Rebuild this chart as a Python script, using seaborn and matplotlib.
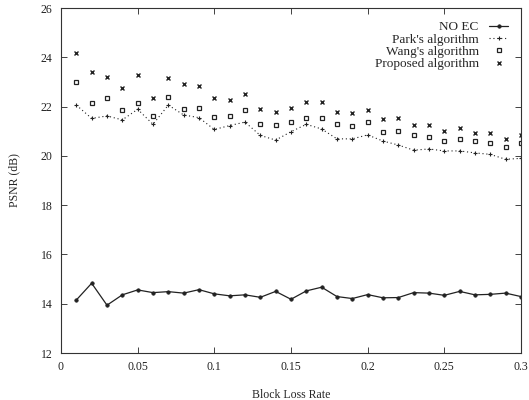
import pandas as pd
import matplotlib
matplotlib.use("Agg")
import matplotlib.pyplot as plt
import seaborn as sns

# ---------------------------------------------------------------------------
# DONNEES
# ---------------------------------------------------------------------------
loss_rate = [0.01, 0.02, 0.03, 0.04, 0.05, 0.06, 0.07, 0.08, 0.09, 0.10,
             0.11, 0.12, 0.13, 0.14, 0.15, 0.16, 0.17, 0.18, 0.19, 0.20,
             0.21, 0.22, 0.23, 0.24, 0.25, 0.26, 0.27, 0.28, 0.29, 0.30]

psnr_no_ec = [14.15, 14.83, 13.94, 14.36, 14.56, 14.45, 14.49, 14.43, 14.57, 14.40,
              14.32, 14.36, 14.26, 14.50, 14.18, 14.52, 14.67, 14.29, 14.21, 14.37,
              14.24, 14.25, 14.45, 14.43, 14.34, 14.50, 14.36, 14.38, 14.43, 14.29]

psnr_park = [22.06, 21.52, 21.62, 21.46, 21.89, 21.28, 22.06, 21.66, 21.55, 21.07,
             21.23, 21.37, 20.83, 20.64, 20.98, 21.28, 21.09, 20.69, 20.69, 20.85,
             20.60, 20.44, 20.23, 20.28, 20.20, 20.20, 20.12, 20.06, 19.86, 19.90]

psnr_wang = [23.01, 22.13, 22.36, 21.86, 22.13, 21.62, 22.38, 21.90, 21.96, 21.59,
             21.63, 21.86, 21.28, 21.25, 21.39, 21.55, 21.55, 21.28, 21.21, 21.38,
             20.96, 21.01, 20.85, 20.75, 20.62, 20.69, 20.60, 20.54, 20.37, 20.51]

psnr_proposed = [24.19, 23.42, 23.20, 22.77, 23.28, 22.34, 23.16, 22.93, 22.82, 22.36,
                 22.27, 22.50, 21.89, 21.80, 21.96, 22.17, 22.20, 21.80, 21.73, 21.88,
                 21.50, 21.53, 21.25, 21.25, 21.02, 21.12, 20.94, 20.94, 20.69, 20.85]

x_ticks = [0, 0.05, 0.1, 0.15, 0.2, 0.25, 0.3]
x_tick_labels = ["0", "0.05", "0.1", "0.15", "0.2", "0.25", "0.3"]
y_ticks = [12, 14, 16, 18, 20, 22, 24, 26]

# ---------------------------------------------------------------------------
# STYLE
# ---------------------------------------------------------------------------
sns.set_style("ticks")
plt.rcParams["font.family"] = ["Liberation Serif", "DejaVu Serif"]
plt.rcParams["font.size"] = 8.5

fig = plt.figure(figsize=(5.29, 4.0), dpi=100)
ax = fig.add_axes([0.1153, 0.1175, 0.8695, 0.8625])

ink = "#222222"
sns.lineplot(x=loss_rate, y=psnr_no_ec, ax=ax, color=ink, linewidth=0.9,
             marker="o", markersize=2.5, markeredgecolor=ink,
             markeredgewidth=0.5, label="NO EC")
sns.lineplot(x=loss_rate, y=psnr_park, ax=ax, color=ink, linewidth=0.8,
             linestyle=(0, (1, 2.5)), marker="+", markersize=3,
             markeredgecolor=ink, markeredgewidth=0.8, label="Park's algorithm")
sns.lineplot(x=loss_rate, y=psnr_wang, ax=ax, color=ink, linestyle="none",
             marker="s", markersize=3, markerfacecolor="white",
             markeredgecolor=ink, markeredgewidth=0.9, label="Wang's algorithm")
sns.lineplot(x=loss_rate, y=psnr_proposed, ax=ax, color=ink, linestyle="none",
             marker="x", markersize=2.8, markeredgecolor=ink,
             markeredgewidth=1.0, label="Proposed algorithm")

ax.set_xlim(0, 0.3)
ax.set_ylim(12, 26)
ax.set_xticks(x_ticks)
ax.set_xticklabels(x_tick_labels)
ax.set_yticks(y_ticks)
ax.tick_params(direction="in", top=True, right=True, length=4, width=0.6,
               labelsize=8.5, pad=6, colors=ink)
for spine in ax.spines.values():
    spine.set_linewidth(0.8)
    spine.set_color("#333333")

ax.set_xlabel("Block Loss Rate", fontsize=8.5, labelpad=11)
ax.set_ylabel("PSNR (dB)", fontsize=8.5, labelpad=15)

ax.legend(loc="upper right", frameon=False, markerfirst=False, fontsize=9.5,
          handlelength=1.4, labelspacing=0.0, borderaxespad=0.6,
          handletextpad=0.8)

fig.savefig("out.png", dpi=100)
plt.close(fig)
